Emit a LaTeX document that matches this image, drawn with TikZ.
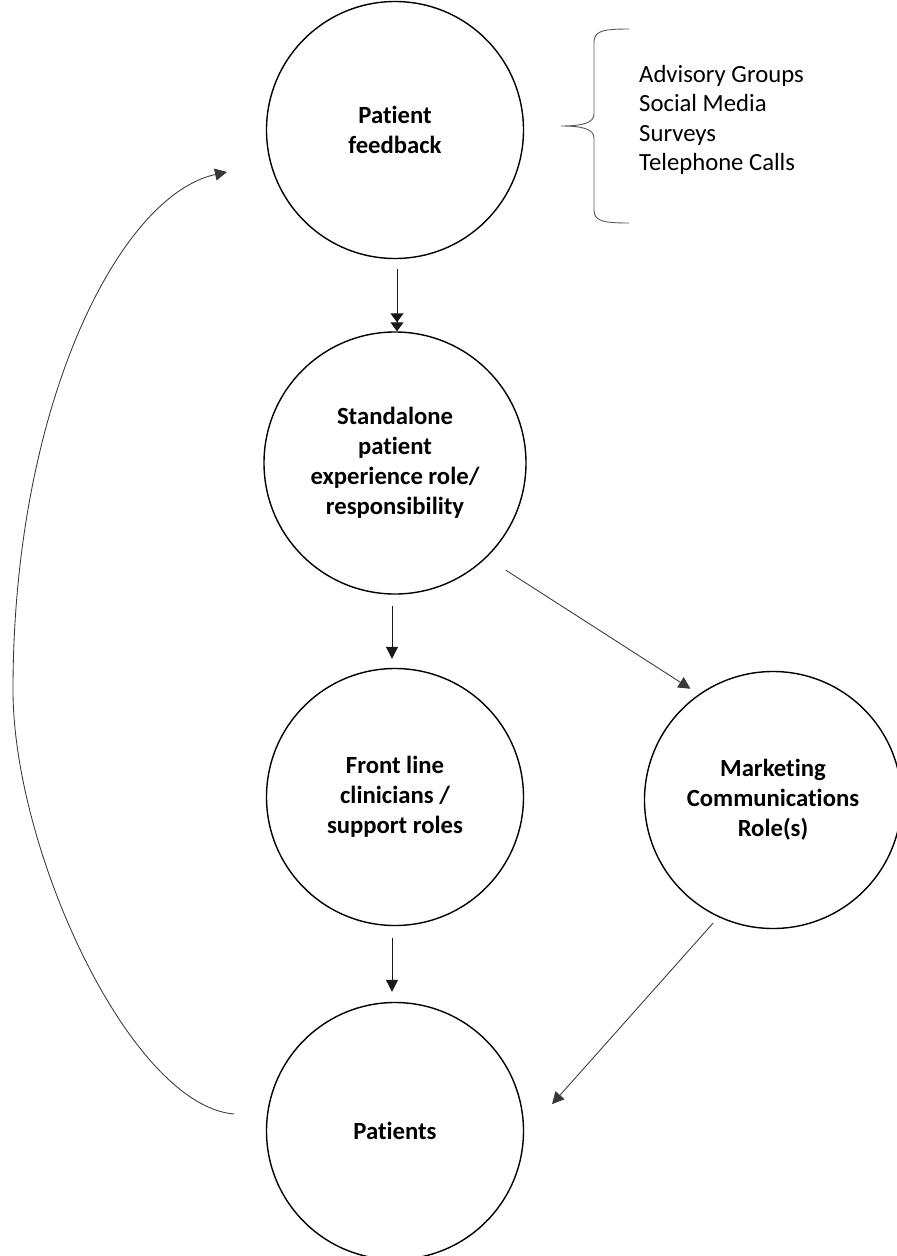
\documentclass[tikz,border=0pt]{standalone}
\usepackage{fontspec}
\setmainfont{Carlito}[Ligatures={NoCommon,NoRequired,NoContextual}]
\usetikzlibrary{arrows.meta}
\begin{document}
\begin{tikzpicture}[x=1pt,y=-1pt,
  bubble/.style={circle, draw=black, line width=1.4pt, minimum size=257pt,
    inner sep=0pt, align=center,
    font=\bfseries\fontsize{24.7pt}{30pt}\selectfont},
  plaintext/.style={inner sep=0pt, align=left,
    font=\fontsize{24.7pt}{29.3pt}\selectfont},
  flow/.style={line width=1pt, draw=black!90,
    -{Triangle[length=12pt,width=12pt]}},
  softflow/.style={line width=0.85pt, draw=black!78,
    -{Triangle[length=12pt,width=12pt]}},
  twohead/.style={line width=1pt, draw=black!90,
    -{Triangle[length=9pt,width=13pt,sep=0pt]Triangle[length=9pt,width=13pt]}},
  bracket/.style={line width=0.9pt, draw=black!65}
]
\fill[white] (0,0) rectangle (897,1256);
\useasboundingbox (0,0) rectangle (897,1256);

% circles
\node[bubble] (feedback) at (395,130) {Patient\\feedback};
\node[bubble, minimum size=262pt] (standalone) at (395,463)
  {Standalone\\patient\\experience role/\\responsibility};
\node[bubble] (frontline) at (395,797) {Front line\\clinicians /\\support roles};
\node[bubble] (marketing) at (773,800) {Marketing\\Communications\\Role(s)};
\node[bubble] (patients) at (395,1131) {Patients};

% feedback channels and their brace
\node[plaintext, anchor=west] (sources) at (639,120)
  {Advisory Groups\\Social Media\\Surveys\\Telephone Calls};
\draw[bracket] (629,29) .. controls (603,29) and (594,31) .. (594,42)
  -- (594,114) .. controls (594,123) and (582,126) .. (561,126)
  .. controls (582,126) and (594,129) .. (594,138)
  -- (594,210) .. controls (594,221) and (603,223) .. (629,223);

% downward flow
\draw[twohead, shorten <=10pt] ([xshift=2pt]feedback.south) -- ([xshift=2pt]standalone.north);
\draw[flow, shorten <=11pt, shorten >=9pt] ([xshift=-3pt]standalone.south) -- ([xshift=-3pt]frontline.north);
\draw[flow, shorten <=12pt, shorten >=10pt] ([xshift=-3pt]frontline.south) -- ([xshift=-3pt]patients.north);

% side branch through marketing
\draw[softflow, shorten <=23pt, shorten >=10pt] (standalone.-46) -- (marketing.125);
\draw[softflow, shorten <=8pt, shorten >=42pt] (marketing.-115) -- (patients.-2.5);

% loop back from patients to feedback
\coordinate (loopstart) at (234,1114);
\coordinate (loopwest) at (13,690);
\coordinate (loopend) at (227,172);
\draw[softflow] (loopstart) .. controls (130,1105) and (13,850) .. (loopwest)
  .. controls (13,404) and (120,195) .. (loopend);
\end{tikzpicture}
\end{document}
